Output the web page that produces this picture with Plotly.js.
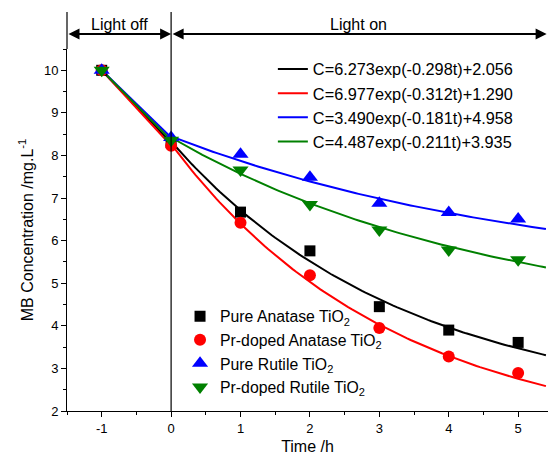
<!DOCTYPE html>
<html>
<head>
<meta charset="utf-8">
<script src="https://cdn.plot.ly/plotly-3.0.1.min.js"></script>
<style>html,body{margin:0;padding:0;background:#fff}#chart{width:548px;height:457px}</style>
</head>
<body>
<div id="chart"></div>
<script>
// ---- data ----
var time = [-1, 0, 1, 2, 3, 4, 5];
var xTickVals = [-1, 0, 1, 2, 3, 4, 5];
var xTickText = ["-1", "0", "1", "2", "3", "4", "5"];
var seriesNames = ["Pure Anatase TiO<sub>2</sub>", "Pr-doped Anatase TiO<sub>2</sub>", "Pure Rutile TiO<sub>2</sub>", "Pr-doped Rutile TiO<sub>2</sub>"];
var pureAnatase = [10.0, 8.30, 6.67, 5.76, 4.45, 3.90, 3.61];
var prAnatase   = [10.0, 8.23, 6.42, 5.19, 3.95, 3.28, 2.89];
var pureRutile  = [10.0, 8.42, 8.03, 7.49, 6.88, 6.66, 6.51];
var prRutile    = [10.0, 8.36, 7.66, 6.85, 6.25, 5.78, 5.55];
// fit parameters  C = A*exp(-k t) + C0  (from the equation legend)
var fitA  = [6.273, 6.977, 3.490, 4.487];
var fitK  = [0.298, 0.312, 0.181, 0.211];
var fitC0 = [2.056, 1.290, 4.958, 3.935];
var fitLabels = ["C=6.273exp(-0.298t)+2.056", "C=6.977exp(-0.312t)+1.290", "C=3.490exp(-0.181t)+4.958", "C=4.487exp(-0.211t)+3.935"];
var colors = ["#000000", "#ff0000", "#0000ff", "#008000"];
var symbols = ["square", "circle", "triangle-up", "triangle-down"];
var sizes = [11, 12, 14, 14];
var xRange = [-1.5, 5.43];
var yRange = [2, 10.5];

var allSeries = [pureAnatase, prAnatase, pureRutile, prRutile];
var FONT = "Liberation Sans, Arial, sans-serif";
var traces = [];

// connector segments (light off period), measured points at t=-1 and t=0
allSeries.forEach(function (s, i) {
  traces.push({
    x: time.slice(0, 2), y: s.slice(0, 2), mode: "lines",
    line: {color: colors[i], width: 2}, showlegend: false, hoverinfo: "skip"
  });
});
// fitted curves (light on period)
var tFit = [];
for (var t = 0; t <= xRange[1] + 1e-9; t += 0.05) tFit.push(+t.toFixed(2));
allSeries.forEach(function (s, i) {
  traces.push({
    x: tFit,
    y: tFit.map(function (tt) { return fitA[i] * Math.exp(-fitK[i] * tt) + fitC0[i]; }),
    mode: "lines", name: fitLabels[i], legend: "legend2",
    line: {color: colors[i], width: 2}
  });
});
// measured points
allSeries.forEach(function (s, i) {
  traces.push({
    x: time, y: s, mode: "markers", name: seriesNames[i], legend: "legend",
    marker: {symbol: symbols[i], color: colors[i], size: sizes[i], line: {width: 0}}
  });
});

var axBase = {
  showline: true, linecolor: "#000", linewidth: 1, showgrid: false, zeroline: false,
  tickcolor: "#000", tickwidth: 1, tickfont: {family: FONT, size: 13, color: "#000"}
};
var layout = {
  width: 548, height: 457,
  margin: {l: 67, r: 0, t: 49, b: 46},
  paper_bgcolor: "#fff", plot_bgcolor: "#fff",
  font: {family: FONT, color: "#000"},
  xaxis: Object.assign({}, axBase, {
    range: xRange, tickmode: "array", tickvals: xTickVals, ticktext: xTickText, ticks: "outside", ticklen: 5,
    minor: {dtick: 0.5, tick0: 0, ticks: "outside", ticklen: 3, tickcolor: "#000"},
    title: {text: "Time /h", font: {family: FONT, size: 16, color: "#000"}, standoff: 6}
  }),
  xaxis2: Object.assign({}, axBase, {
    overlaying: "x", side: "top", range: xRange, dtick: 1, tick0: 0, ticks: "inside", ticklen: 4,
    showticklabels: false, minor: {dtick: 0.5, tick0: 0, ticks: "inside", ticklen: 3, tickcolor: "#000"}
  }),
  yaxis: Object.assign({}, axBase, {
    range: yRange, dtick: 1, tick0: 0, ticks: "outside", ticklen: 5,
    minor: {dtick: 0.5, tick0: 0, ticks: "outside", ticklen: 3, tickcolor: "#000"},
    title: {text: "MB Concentration /mg.L<sup>-1</sup>", font: {family: FONT, size: 16, color: "#000"}, standoff: 6}
  }),
  yaxis2: Object.assign({}, axBase, {
    overlaying: "y", side: "right", range: yRange, dtick: 1, tick0: 0, ticks: "inside", ticklen: 4,
    showticklabels: false, minor: {dtick: 0.5, tick0: 0, ticks: "inside", ticklen: 3, tickcolor: "#000"}
  }),
  legend: {
    x: 0.235, y: 0.308, xanchor: "left", yanchor: "top", bgcolor: "rgba(0,0,0,0)",
    font: {family: FONT, size: 15.8, color: "#000"}, tracegroupgap: 0
  },
  legend2: {
    x: 0.428, y: 0.992, xanchor: "left", yanchor: "top", bgcolor: "rgba(0,0,0,0)",
    font: {family: FONT, size: 16.3, color: "#000"}
  },
  shapes: [
    {type: "line", xref: "x", yref: "paper", x0: 0, x1: 0, y0: 0, y1: 1.102, line: {color: "#000", width: 1.2}},
    {type: "line", xref: "paper", yref: "paper", x0: 0, x1: 0, y0: 1, y1: 1.102, line: {color: "#000", width: 1.2}}
  ],
  annotations: [
    {xref: "x", yref: "paper", x: 0, y: 1.0414, axref: "x", ax: xRange[0], ayref: "pixel", ay: 0,
     text: "", showarrow: true, arrowhead: 2, arrowside: "end+start", arrowsize: 1.1, arrowwidth: 2, arrowcolor: "#000", standoff: 0, startstandoff: 0},
    {xref: "x", yref: "paper", x: xRange[1] - 0.02, y: 1.0414, axref: "x", ax: 0, ayref: "pixel", ay: 0,
     text: "", showarrow: true, arrowhead: 2, arrowside: "end+start", arrowsize: 1.1, arrowwidth: 2, arrowcolor: "#000", standoff: 0, startstandoff: 0},
    {xref: "x", yref: "paper", x: -0.75, y: 1.067, yanchor: "middle", text: "Light off", showarrow: false,
     font: {family: FONT, size: 16, color: "#000"}},
    {xref: "x", yref: "paper", x: 2.7, y: 1.067, yanchor: "middle", text: "Light on", showarrow: false,
     font: {family: FONT, size: 16, color: "#000"}}
  ]
};

Plotly.newPlot("chart", traces, layout, {displayModeBar: false, staticPlot: true});
</script>
</body>
</html>
